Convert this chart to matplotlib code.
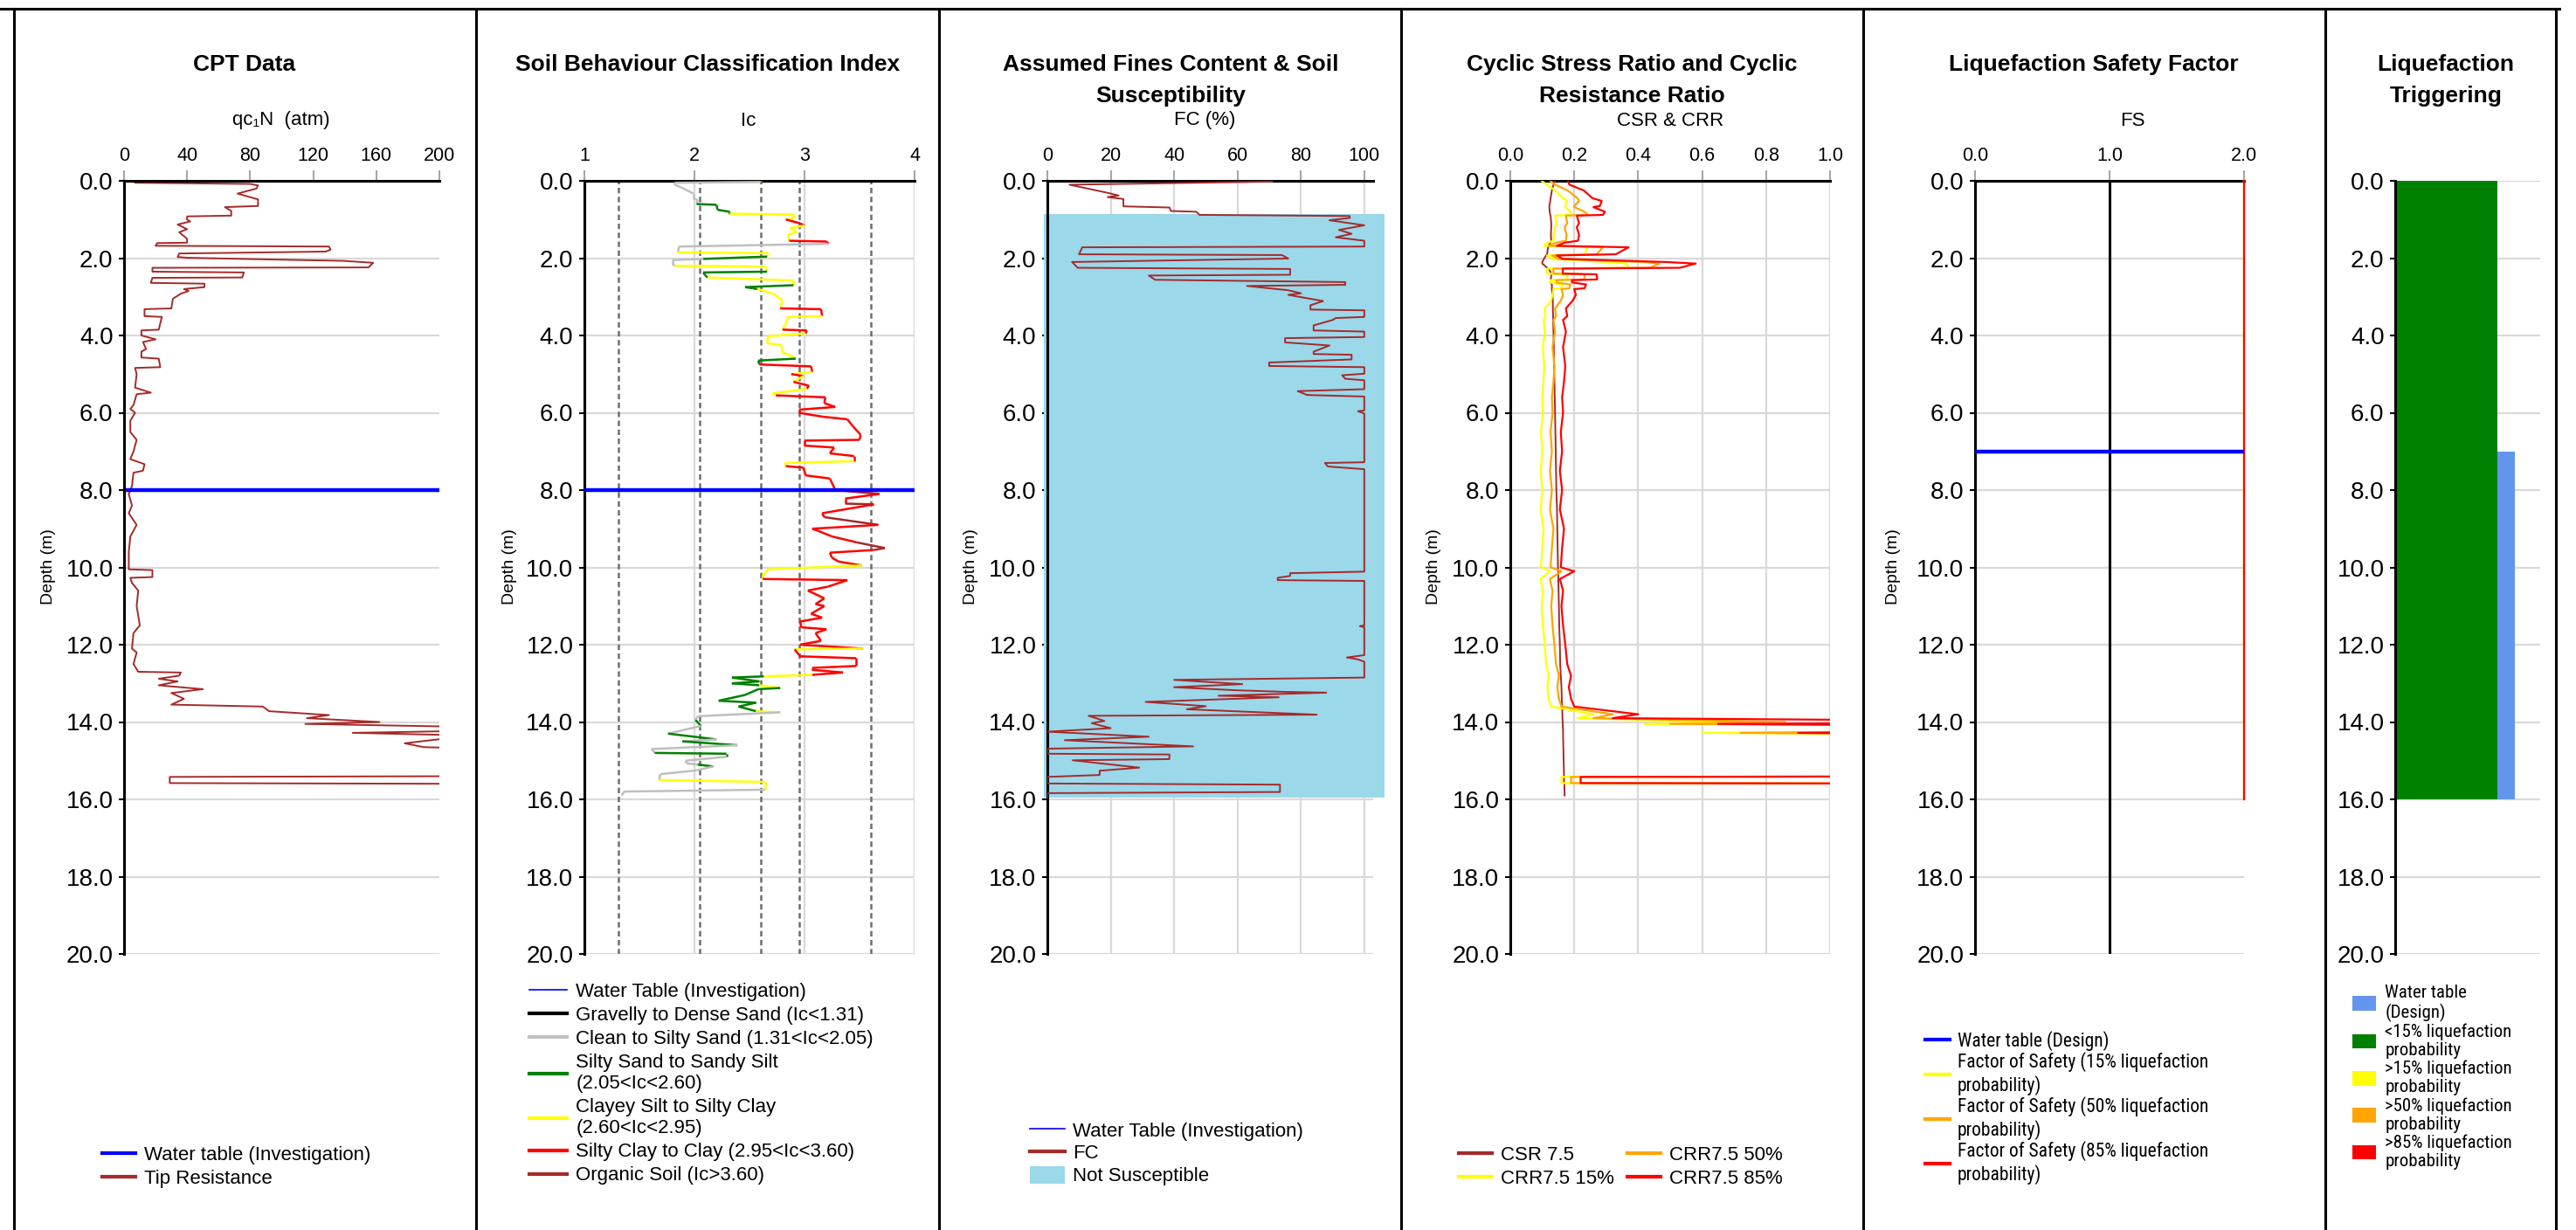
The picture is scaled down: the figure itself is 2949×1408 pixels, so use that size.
import numpy as np
import matplotlib
matplotlib.use("Agg")
import matplotlib.pyplot as plt
from matplotlib.lines import Line2D
from matplotlib.patches import Patch
from matplotlib.collections import LineCollection

plt.rcParams['font.family'] = ['Liberation Sans', 'DejaVu Sans']
NARROW = ['Roboto Condensed', 'Liberation Sans Narrow', 'Liberation Sans']

W, H = 2949, 1408

# water tables (m)
wt_investigation = 8.0
wt_design = 7.0

# CPT tip resistance qc1N (atm) vs depth (m)
cpt_depth = [0.00, 0.05, 0.08, 0.12, 0.20, 0.33, 0.48, 0.65, 0.68, 0.78,
             0.90, 0.92, 1.00, 1.05, 1.13, 1.25, 1.33, 1.50, 1.60, 1.61,
             1.68, 1.70, 1.78, 1.83, 1.88, 1.97, 1.99, 2.04, 2.07, 2.12,
             2.24, 2.25, 2.35, 2.37, 2.50, 2.51, 2.64, 2.66, 2.75, 2.80,
             2.85, 2.92, 3.05, 3.30, 3.32, 3.50, 3.52, 3.85, 3.87, 4.00,
             4.10, 4.17, 4.35, 4.42, 4.57, 4.60, 4.82, 4.84, 5.00, 5.35,
             5.48, 5.52, 5.80, 5.90, 6.00, 6.20, 6.50, 6.70, 7.00, 7.20,
             7.33, 7.50, 7.55, 7.90, 8.10, 8.40, 8.60, 8.90, 9.20, 9.60,
             10.05, 10.07, 10.25, 10.27, 10.40, 10.60, 11.00, 11.50, 11.70, 12.10,
             12.20, 12.50, 12.70, 12.72, 12.80, 12.88, 12.95, 13.05, 13.15, 13.25,
             13.40, 13.55, 13.60, 13.72, 13.82, 13.90, 14.00, 14.05, 14.12, 14.20,
             14.28, 14.35, 14.55, 14.65, 14.70, 14.85, 15.40, 15.42, 15.58, 15.60,
             15.90]
cpt_qc = [7, 7, 80, 85, 84, 72, 85, 85, 64, 68,
          68, 40, 40, 42, 34, 40, 35, 40, 40, 21,
          20, 130, 131, 128, 35, 34, 40, 100, 139, 158,
          155, 18, 18, 76, 75, 18, 17, 51, 51, 38,
          41, 36, 31, 30, 13, 13, 24, 22, 11, 11,
          20, 12, 14, 11, 11, 22, 23, 7, 8, 7,
          17, 8, 6, 4, 7, 4, 4, 8, 6, 4,
          13, 12, 6, 5, 3, 5, 3, 8, 4, 3,
          3, 18, 18, 4, 5, 9, 8, 10, 6, 5,
          8, 6, 9, 36, 35, 22, 34, 22, 50, 30,
          38, 30, 88, 92, 130, 116, 162, 115, 210, 260,
          145, 220, 178, 190, 240, 230, 230, 29, 29, 230,
          230]

# soil behaviour type index Ic vs depth (m)
ic_depth = [0.00, 0.03, 0.05, 0.10, 0.17, 0.33, 0.45, 0.50, 0.60, 0.62,
            0.75, 0.80, 0.85, 0.87, 0.95, 1.00, 1.10, 1.16, 1.22, 1.32,
            1.40, 1.55, 1.57, 1.63, 1.70, 1.85, 1.87, 1.96, 2.02, 2.05,
            2.15, 2.20, 2.22, 2.35, 2.37, 2.45, 2.50, 2.58, 2.70, 2.75,
            2.78, 2.80, 2.90, 3.00, 3.10, 3.30, 3.32, 3.50, 3.52, 3.70,
            3.85, 3.87, 3.95, 4.02, 4.20, 4.25, 4.45, 4.50, 4.60, 4.65,
            4.75, 4.80, 4.95, 5.00, 5.05, 5.20, 5.30, 5.38, 5.50, 5.55,
            5.60, 5.75, 5.85, 5.92, 6.00, 6.10, 6.17, 6.35, 6.57, 6.70,
            6.72, 6.85, 6.90, 7.05, 7.12, 7.25, 7.30, 7.38, 7.42, 7.62,
            7.70, 8.00, 8.10, 8.22, 8.35, 8.37, 8.60, 8.70, 8.90, 9.00,
            9.05, 9.20, 9.35, 9.50, 9.55, 9.62, 9.75, 9.85, 9.95, 10.05,
            10.20, 10.30, 10.33, 10.50, 10.60, 10.80, 10.95, 11.00, 11.20, 11.30,
            11.40, 11.55, 11.60, 11.70, 11.90, 12.00, 12.10, 12.12, 12.30, 12.35,
            12.55, 12.60, 12.65, 12.72, 12.78, 12.82, 12.85, 12.95, 13.00, 13.05,
            13.12, 13.15, 13.30, 13.45, 13.50, 13.60, 13.72, 13.75, 13.85, 13.95,
            14.10, 14.30, 14.45, 14.50, 14.60, 14.70, 14.80, 14.82, 14.90, 15.00,
            15.07, 15.10, 15.15, 15.25, 15.35, 15.50, 15.55, 15.75, 15.80, 15.90]
ic_value = [2.60, 2.60, 1.82, 1.82, 1.88, 1.99, 1.99, 2.03, 2.02, 2.20,
            2.21, 2.32, 2.32, 2.90, 2.91, 2.83, 2.96, 3.00, 2.87, 2.93,
            2.85, 2.86, 3.20, 3.22, 1.86, 1.85, 2.67, 2.66, 2.08, 1.80,
            1.80, 1.82, 2.65, 2.66, 2.08, 2.10, 2.12, 2.90, 2.90, 2.46,
            2.53, 2.57, 2.70, 2.76, 2.80, 2.78, 3.15, 3.16, 2.85, 2.83,
            2.80, 3.02, 3.01, 2.67, 2.66, 2.79, 2.80, 2.86, 2.92, 2.58,
            2.59, 3.06, 3.07, 2.88, 2.99, 2.90, 3.04, 3.02, 2.71, 2.74,
            3.19, 3.18, 3.28, 2.95, 2.95, 3.16, 3.39, 3.44, 3.51, 3.50,
            3.00, 3.00, 3.27, 3.23, 3.45, 3.45, 2.82, 2.83, 2.99, 3.01,
            3.23, 3.28, 3.68, 3.37, 3.37, 3.63, 3.16, 3.18, 3.67, 3.07,
            3.12, 3.25, 3.47, 3.73, 3.63, 3.23, 3.25, 3.31, 3.52, 2.67,
            2.62, 2.62, 3.39, 3.21, 3.03, 3.18, 3.10, 3.18, 3.06, 3.16,
            2.96, 2.97, 3.20, 3.10, 3.15, 2.96, 3.53, 2.91, 2.96, 3.47,
            3.47, 3.07, 3.07, 3.35, 3.07, 2.63, 2.34, 2.59, 2.34, 2.59,
            2.78, 2.58, 2.46, 2.22, 2.56, 2.40, 2.56, 2.78, 2.03, 2.01,
            2.06, 1.76, 2.20, 1.89, 2.39, 1.61, 1.64, 2.29, 2.29, 1.92,
            1.93, 2.03, 2.17, 2.02, 1.69, 1.68, 2.64, 2.64, 1.36, 1.34]
ic_bounds = [1.31, 2.05, 2.60, 2.95, 3.60]
ic_colors = ['#000000', '#BFBFBF', '#008000', '#FFFF00', '#FF0000', '#A52A2A']
ic_labels = ['Gravelly to Dense Sand (Ic<1.31)',
             'Clean to Silty Sand (1.31<Ic<2.05)',
             'Silty Sand to Sandy Silt\n(2.05<Ic<2.60)',
             'Clayey Silt to Silty Clay\n(2.60<Ic<2.95)',
             'Silty Clay to Clay (2.95<Ic<3.60)',
             'Organic Soil (Ic>3.60)']

# assumed fines content FC (%) vs depth (m)
fc_depth = [0.02, 0.10, 0.31, 0.38, 0.42, 0.47, 0.66, 0.69, 0.78, 0.80,
            0.88, 0.91, 0.96, 1.02, 1.15, 1.27, 1.37, 1.46, 1.55, 1.70,
            1.72, 1.90, 1.92, 2.01, 2.10, 2.25, 2.28, 2.43, 2.45, 2.56,
            2.62, 2.69, 2.72, 2.83, 2.91, 2.95, 3.11, 3.22, 3.33, 3.35,
            3.52, 3.55, 3.60, 3.74, 3.87, 3.90, 4.04, 4.07, 4.18, 4.26,
            4.42, 4.48, 4.50, 4.62, 4.70, 4.79, 4.82, 4.99, 5.03, 5.12,
            5.16, 5.39, 5.44, 5.54, 5.58, 5.94, 5.96, 6.02, 7.28, 7.30,
            7.39, 7.46, 10.11, 10.15, 10.22, 10.27, 10.33, 10.35, 11.50, 11.52,
            11.55, 12.27, 12.33, 12.38, 12.44, 12.85, 12.91, 13.02, 13.10, 13.18,
            13.22, 13.24, 13.32, 13.36, 13.48, 13.59, 13.67, 13.81, 13.84, 13.97,
            14.03, 14.16, 14.25, 14.38, 14.47, 14.63, 14.69, 14.82, 14.84, 14.96,
            14.99, 15.18, 15.26, 15.37, 15.42, 15.59, 15.62, 15.81, 15.84, 15.95]
fc_value = [71, 7, 19, 22.5, 19, 24, 24, 38.5, 39, 47,
            48, 95.4, 95.4, 89, 100, 92, 96, 91, 100, 100,
            11, 10, 74, 76, 7.8, 9.6, 76.6, 76.6, 32, 34,
            94, 94, 63, 76, 80, 76, 87, 83, 83, 100,
            100, 91, 90, 84, 84, 100, 100, 75, 75, 89,
            84, 84, 96, 96, 70, 70, 100, 100, 93, 94,
            100, 100, 79, 82, 100, 100, 98, 100, 100, 87.6,
            88.5, 100, 100, 76.6, 76.6, 72.7, 72.7, 100, 100, 98.6,
            100, 100, 94.5, 98, 100, 100, 40, 61.5, 40, 60,
            75, 88, 54, 73, 31, 50, 44, 85, 13, 18,
            14, 20, 0, 32, 5.5, 46, 0, 0, 38.5, 38.5,
            8, 29, 16.5, 16.5, 0, 0, 73.4, 73.4, 0, 0]
# not susceptible zone (m)
ns_top = 0.87
ns_bottom = 15.95

# cyclic stress / resistance ratios vs depth (m)
cr_depth = [0.00, 0.10, 0.25, 0.45, 0.52, 0.65, 0.68, 0.80, 0.88, 0.90,
            1.10, 1.20, 1.40, 1.55, 1.60, 1.68, 1.72, 1.90, 1.93, 2.02,
            2.10, 2.14, 2.25, 2.27, 2.40, 2.42, 2.55, 2.57, 2.63, 2.68,
            2.78, 2.80, 2.95, 3.10, 3.30, 3.50, 3.60, 3.90, 4.30, 4.80,
            5.20, 5.60, 6.00, 6.50, 7.00, 7.50, 8.00, 8.50, 9.00, 9.50,
            10.00, 10.10, 10.30, 10.60, 11.00, 11.50, 12.00, 12.50, 12.80, 13.10,
            13.40, 13.60, 13.80, 13.90, 14.00, 14.05, 14.12, 14.20, 14.28, 14.35,
            15.40, 15.42, 15.58, 15.60, 15.90]
csr75 = [0.140, 0.135, 0.130, 0.126, 0.125, 0.122, 0.122, 0.123, 0.125, 0.126,
         0.128, 0.128, 0.127, 0.128, 0.125, 0.120, 0.118, 0.115, 0.112, 0.105,
         0.100, 0.100, 0.115, 0.120, 0.128, 0.128, 0.127, 0.127, 0.126, 0.130,
         0.130, 0.130, 0.132, 0.133, 0.133, 0.134, 0.134, 0.135, 0.136, 0.137,
         0.138, 0.139, 0.140, 0.141, 0.142, 0.143, 0.144, 0.146, 0.147, 0.148,
         0.149, 0.150, 0.150, 0.151, 0.152, 0.153, 0.155, 0.156, 0.158, 0.160,
         0.161, 0.162, 0.163, 0.163, 0.164, 0.164, 0.164, 0.165, 0.165, 0.165,
         0.168, 0.168, 0.168, 0.169, 0.170]
crr15 = [0.098, 0.115, 0.140, 0.165, 0.178, 0.172, 0.172, 0.188, 0.190, 0.140,
         0.145, 0.140, 0.136, 0.136, 0.115, 0.105, 0.242, 0.232, 0.115, 0.130,
         0.300, 0.364, 0.370, 0.115, 0.115, 0.178, 0.178, 0.125, 0.125, 0.164,
         0.160, 0.135, 0.132, 0.128, 0.108, 0.110, 0.104, 0.108, 0.102, 0.106,
         0.104, 0.100, 0.102, 0.096, 0.100, 0.095, 0.100, 0.095, 0.104, 0.100,
         0.096, 0.125, 0.095, 0.102, 0.098, 0.102, 0.108, 0.112, 0.120, 0.116,
         0.120, 0.128, 0.260, 0.210, 0.700, 0.420, 2.0, 2.0, 0.600, 2.0,
         2.0, 0.160, 0.160, 2.0, 2.0]
crr50 = [0.125, 0.140, 0.180, 0.210, 0.215, 0.200, 0.200, 0.232, 0.242, 0.174,
         0.178, 0.170, 0.176, 0.174, 0.144, 0.120, 0.290, 0.270, 0.130, 0.150,
         0.420, 0.466, 0.437, 0.135, 0.135, 0.232, 0.232, 0.144, 0.144, 0.188,
         0.185, 0.160, 0.165, 0.158, 0.140, 0.143, 0.135, 0.140, 0.132, 0.138,
         0.135, 0.130, 0.132, 0.126, 0.130, 0.124, 0.130, 0.124, 0.135, 0.130,
         0.126, 0.160, 0.124, 0.132, 0.128, 0.132, 0.138, 0.143, 0.152, 0.147,
         0.152, 0.160, 0.320, 0.260, 0.860, 0.500, 2.0, 2.0, 0.720, 2.0,
         2.0, 0.190, 0.190, 2.0, 2.0]
crr85 = [0.180, 0.185, 0.230, 0.257, 0.286, 0.280, 0.260, 0.296, 0.290, 0.208,
         0.215, 0.208, 0.215, 0.212, 0.170, 0.145, 0.370, 0.330, 0.145, 0.164,
         0.486, 0.580, 0.530, 0.164, 0.164, 0.270, 0.272, 0.193, 0.193, 0.237,
         0.232, 0.200, 0.205, 0.195, 0.174, 0.178, 0.165, 0.174, 0.165, 0.172,
         0.168, 0.162, 0.165, 0.158, 0.162, 0.155, 0.162, 0.155, 0.168, 0.162,
         0.158, 0.200, 0.155, 0.165, 0.160, 0.165, 0.172, 0.178, 0.190, 0.183,
         0.190, 0.200, 0.400, 0.320, 2.0, 0.650, 2.0, 2.0, 0.900, 2.0,
         2.0, 0.220, 0.220, 2.0, 2.0]

# factor of safety (capped at 2.0)
fs_depth = [0.0, 16.0]
fs15 = [2.0, 2.0]
fs50 = [2.0, 2.0]
fs85 = [2.0, 2.0]

# liquefaction triggering layers (m)
trig_top = [0.0]
trig_bottom = [16.0]
trig_class = ['<15%']
trig_colors = {'<15%': '#008000', '>15%': '#FFFF00', '>50%': '#FFA500', '>85%': '#FF0000'}

BROWN = '#A52A2A'
GRID = '#D9D9D9'
TICK = '#A6A6A6'

fig = plt.figure(figsize=(W / 100, H / 100), dpi=100)


def px_x(x):
    return x / W


def px_y(y):
    return 1 - y / H


def add_panel(x0, x1, y0=207, y1=1092):
    return fig.add_axes([px_x(x0), px_y(y1), (x1 - x0) / W, (y1 - y0) / H])


def style_depth(ax, xlim, xticks=None, xfmt='{x:.1f}', xgrid=True):
    ax.set_ylim(20, 0)
    ax.set_yticks(np.arange(0, 21, 2))
    ax.yaxis.set_major_formatter('{x:.1f}')
    ax.set_xlim(*xlim)
    if xticks is not None:
        ax.set_xticks(xticks)
        ax.xaxis.set_major_formatter(xfmt)
    ax.xaxis.tick_top()
    ax.spines['right'].set_visible(False)
    ax.spines['bottom'].set_visible(False)
    for s in ['left', 'top']:
        ax.spines[s].set_linewidth(2.2)
    ax.grid(axis='y', color=GRID, lw=1.6)
    if xgrid:
        ax.grid(axis='x', color=GRID, lw=1.6)
    ax.set_axisbelow(True)
    ax.tick_params(axis='y', labelsize=20, length=4, width=1.5, pad=5)
    ax.tick_params(axis='x', labelsize=15.5, length=9, width=1.5, color=TICK, pad=4)


def panel_title(cx, text):
    fig.text(px_x(cx), px_y(92 if '\n' in text else 74), text, ha='center', va='center',
             fontsize=19, fontweight='bold', linespacing=1.62)


def axis_label(cx, text):
    fig.text(px_x(cx), px_y(138), text, ha='center', va='center', fontsize=16)


def depth_label(x):
    fig.text(px_x(x), px_y(649), 'Depth (m)', rotation=90, ha='center', va='center', fontsize=14)


def place_legend(ax, handles, labels, x, y, linespacing=None, **kw):
    opts = dict(loc='upper left', bbox_to_anchor=(px_x(x), px_y(y)),
                bbox_transform=fig.transFigure, frameon=False, borderpad=0,
                borderaxespad=0, fontsize=16, labelspacing=0.25, handletextpad=0.45)
    opts.update(kw)
    leg = ax.legend(handles, labels, **opts)
    if linespacing:
        for t in leg.get_texts():
            t.set_linespacing(linespacing)
    return leg


# panel frames
for xb in [16, 545, 1075, 1604, 2133, 2662, 2926]:
    fig.add_artist(Line2D([px_x(xb)] * 2, [px_y(10), 0], color='black', lw=2.2))
fig.add_artist(Line2D([0, px_x(2930)], [px_y(10)] * 2, color='black', lw=2.2))

# ---- CPT data ----
ax1 = add_panel(142, 503)
style_depth(ax1, (0, 200), [0, 40, 80, 120, 160, 200], '{x:.0f}', xgrid=False)
ax1.plot(cpt_qc, cpt_depth, color=BROWN, lw=1.4)
ax1.axhline(wt_investigation, color='#0000FF', lw=3.2)
panel_title(280, 'CPT Data')
axis_label(322, 'qc₁N  (atm)')
depth_label(56)
place_legend(ax1, [Line2D([], [], color='#0000FF', lw=3), Line2D([], [], color=BROWN, lw=3)],
             ['Water table (Investigation)', 'Tip Resistance'], 117, 1312,
             handlelength=1.7)

# ---- Soil behaviour classification index ----
ax2 = add_panel(669, 1047)
style_depth(ax2, (1, 4), [1, 2, 3, 4], '{x:.0f}')
for b in ic_bounds:
    ax2.axvline(b, color='#6E6E6E', lw=1.8, ls=(0, (2.5, 1.6)), zorder=1.5)
pts = np.column_stack([ic_value, ic_depth])
segs = np.stack([pts[:-1], pts[1:]], axis=1)
zone = np.digitize(np.array(ic_value[1:]), ic_bounds)
ax2.add_collection(LineCollection(segs, colors=[ic_colors[z] for z in zone], lw=1.8, zorder=3))
ax2.axhline(wt_investigation, color='#0000FF', lw=3.2, zorder=4)
panel_title(810, 'Soil Behaviour Classification Index')
axis_label(857, 'Ic')
depth_label(583)
h2 = [Line2D([], [], color='#0000FF', lw=1.2)] + [Line2D([], [], color=c, lw=3) for c in ic_colors]
place_legend(ax2, h2, ['Water Table (Investigation)'] + ic_labels, 606, 1125,
             handlelength=1.95, labelspacing=0.27)

# ---- Fines content & susceptibility ----
ax3 = add_panel(1199, 1572)
style_depth(ax3, (0, 102.8), [0, 20, 40, 60, 80, 100], '{x:.0f}')
ax3.fill_betweenx([ns_top, ns_bottom], -1, 106.4, color='#9AD8EA', lw=0, zorder=1.8, clip_on=False)
ax3.plot(fc_value, fc_depth, color=BROWN, lw=1.4, zorder=3)
panel_title(1340, 'Assumed Fines Content & Soil\nSusceptibility')
axis_label(1379, 'FC (%)')
depth_label(1111)
h3 = [Line2D([], [], color='#0000FF', lw=1.2), Line2D([], [], color=BROWN, lw=3),
      Patch(facecolor='#9AD8EA', edgecolor='none')]
place_legend(ax3, h3, ['Water Table (Investigation)', 'FC', 'Not Susceptible'], 1179, 1283,
             handlelength=1.8, handleheight=1.0, labelspacing=0.15, handletextpad=0.4)

# ---- CSR & CRR ----
ax4 = add_panel(1729, 2095)
style_depth(ax4, (0, 1), np.arange(0, 1.01, 0.2))
ax4.plot(csr75, cr_depth, color=BROWN, lw=1.4, zorder=3)
ax4.plot(crr15, cr_depth, color='#FFFF00', lw=1.6, zorder=3)
ax4.plot(crr50, cr_depth, color='#FFA500', lw=1.6, zorder=3)
ax4.plot(crr85, cr_depth, color='#FF0000', lw=1.6, zorder=3)
panel_title(1868, 'Cyclic Stress Ratio and Cyclic\nResistance Ratio')
axis_label(1912, 'CSR & CRR')
depth_label(1642)
h4 = [Line2D([], [], color=c, lw=3) for c in [BROWN, '#FFFF00', '#FFA500', '#FF0000']]
place_legend(ax4, h4, ['CSR 7.5', 'CRR7.5 15%', 'CRR7.5 50%', 'CRR7.5 85%'], 1670, 1312,
             ncol=2, handlelength=1.7, columnspacing=0.7)

# ---- Factor of safety ----
ax5 = add_panel(2261, 2569)
style_depth(ax5, (0, 2), [0, 1, 2], xgrid=False)
ax5.axvline(1.0, color='black', lw=2.2, zorder=3)
ax5.plot(fs15, fs_depth, color='#FFFF00', lw=1.6, zorder=3, clip_on=False)
ax5.plot(fs50, fs_depth, color='#FFA500', lw=1.6, zorder=3, clip_on=False)
ax5.plot(fs85, fs_depth, color='#FF0000', lw=1.6, zorder=3, clip_on=False)
ax5.axhline(wt_design, color='#0000FF', lw=3.2, zorder=4)
panel_title(2397, 'Liquefaction Safety Factor')
axis_label(2441, 'FS')
depth_label(2168)
h5 = [Line2D([], [], color=c, lw=3) for c in ['#0000FF', '#FFFF00', '#FFA500', '#FF0000']]
l5 = ['Water table (Design)',
      'Factor of Safety (15% liquefaction\nprobability)',
      'Factor of Safety (50% liquefaction\nprobability)',
      'Factor of Safety (85% liquefaction\nprobability)']
place_legend(ax5, h5, l5, 2204, 1180, linespacing=1.21, handlelength=1.3, handletextpad=0.4,
             labelspacing=0.06, prop={'family': NARROW, 'size': 15.5, 'stretch': 'condensed'})

# ---- Liquefaction triggering ----
ax6 = add_panel(2742, 2908)
style_depth(ax6, (0, 1), xgrid=False)
ax6.set_xticks([])
ax6.spines['top'].set_visible(False)
for top, bot, cls in zip(trig_top, trig_bottom, trig_class):
    ax6.barh((top + bot) / 2, 0.705, height=bot - top, left=0, color=trig_colors[cls], zorder=2)
ax6.barh((wt_design + trig_bottom[-1]) / 2, 0.12, height=trig_bottom[-1] - wt_design,
         left=0.705, color='#6495ED', zorder=2)
panel_title(2800, 'Liquefaction\nTriggering')
h6 = [Patch(facecolor='#6495ED')] + [Patch(facecolor=c) for c in trig_colors.values()]
l6 = ['Water table\n(Design)', '<15% liquefaction\nprobability', '>15% liquefaction\nprobability',
      '>50% liquefaction\nprobability', '>85% liquefaction\nprobability']
place_legend(ax6, h6, l6, 2693, 1127, linespacing=1.15, handlelength=1.3, handleheight=0.85,
             handletextpad=0.5, labelspacing=0.08,
             prop={'family': NARROW, 'size': 15, 'stretch': 'condensed'})

fig.savefig('out.png', dpi=100)
